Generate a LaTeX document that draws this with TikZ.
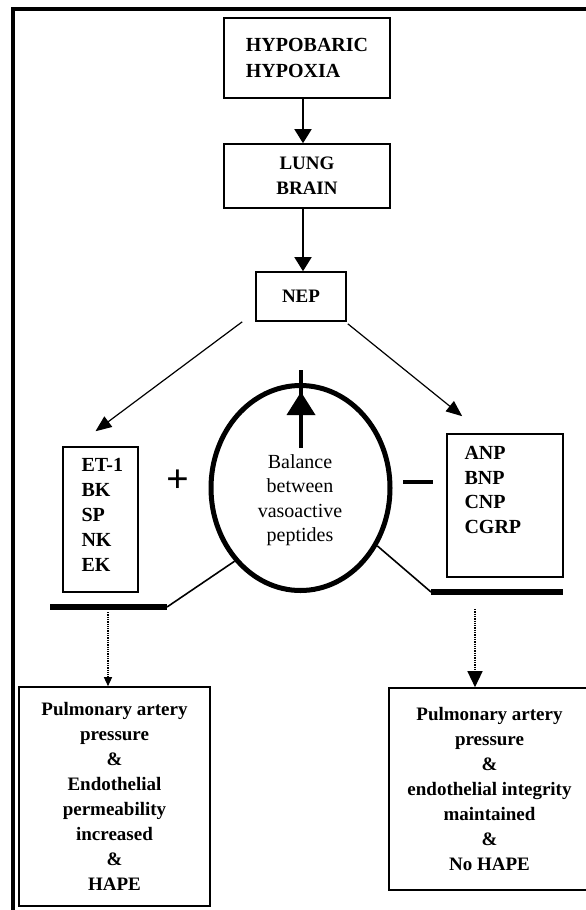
\documentclass[tikz,border=0pt]{standalone}
\usepackage{fontspec}
\setmainfont{Liberation Serif}
\usetikzlibrary{shapes.geometric,arrows.meta}

\begin{document}
\begin{tikzpicture}[x=1pt,y=-1pt,
  box/.style={draw,line width=1.6pt,inner sep=0pt},
  btext/.style={font=\bfseries\fontsize{19}{25}\selectfont},
  rtext/.style={font=\fontsize{20}{24.5}\selectfont,align=center},
  flow/.style={line width=1.6pt,-{Triangle[length=14pt,width=17pt]}},
  branch/.style={line width=1.2pt,-{Triangle[length=16pt,width=13pt]}},
  bar/.style={line width=6pt},
  link/.style={line width=1.6pt},
  dotarrow/.style={densely dotted,line width=1.3pt}]
\useasboundingbox (0,0) rectangle (586,910);

% outer frame (top and left sides)
\coordinate (fTL) at (13,9);
\coordinate (fTR) at (590,9);
\coordinate (fBL) at (13,912);
\draw[line width=4pt] (fTR) -- (fTL) -- (fBL);

% upper chain
\node[box,btext,font=\bfseries\fontsize{20}{26}\selectfont,align=left,
      minimum width=166pt,minimum height=80pt] (hyp) at (307,58) {HYPOBARIC\\HYPOXIA};
\node[box,btext,align=center,minimum width=166pt,minimum height=64pt] (lung) at (307,176) {LUNG\\BRAIN};
\node[box,btext,minimum width=90pt,minimum height=49pt] (nep) at (301,296.5) {NEP};

\draw[flow] ([xshift=-4pt]hyp.south) -- ([xshift=-4pt]lung.north);
\draw[flow] ([xshift=-4pt]lung.south) -- ([xshift=2pt]nep.north);

% peptide groups
\node[box,minimum width=75pt,minimum height=145pt] (et) at (100.5,519.5) {};
\node[btext,font=\bfseries\fontsize{20}{25}\selectfont,align=left,anchor=north west] (ettxt) at (78,455) {ET-1\\BK\\SP\\NK\\EK};

\node[box,minimum width=116pt,minimum height=143pt] (anp) at (505,505.5) {};
\node[btext,font=\bfseries\fontsize{20}{24.5}\selectfont,align=left,anchor=north west] (anptxt) at (461,443) {ANP\\BNP\\CNP\\CGRP};

\draw[branch] ([xshift=-13pt]nep.south west) -- ([shift={(-5pt,15pt)}]et.north);
\draw[branch] ([shift={(1pt,-2pt)}]nep.south east) -- ([shift={(16pt,17pt)}]anp.north west);

% balance
\node[draw,ellipse,line width=5pt,inner sep=0pt,minimum width=179pt,minimum height=205pt] (bal) at (300.5,488) {};
\node[rtext] (baltxt) at (300,500) {Balance\\between\\vasoactive\\peptides};
\coordinate (upbot) at (301,448);
\coordinate (uptop) at (301,370);
\draw[line width=4pt] (upbot) -- (uptop);
\fill ([yshift=-2pt]uptop |- 0,390) -- ([xshift=-14.5pt]uptop |- 0,415) -- ([xshift=14.5pt]uptop |- 0,415) -- cycle;

\node[font=\bfseries\fontsize{40}{40}\selectfont,inner sep=0pt] (plus) at (178,481) {+};
\node[inner sep=0pt] (minus) at (418,482) {\rule{30pt}{4.5pt}};

% bars joined to the balance
\coordinate (lbarL) at (50,607);
\coordinate (lbarR) at (167,607);
\draw[bar] (lbarL) -- (lbarR);
\draw[link] (lbarR) -- (bal.228);

\coordinate (rbarL) at (431,592);
\coordinate (rbarR) at (563,592);
\draw[link] (bal.323) -- (rbarL);
\draw[bar] (rbarL) -- (rbarR);

% outcomes
\node[box,btext,align=center,minimum width=191pt,minimum height=219pt] (res1) at (114.5,796.5)
  {Pulmonary artery\\pressure\\\&\\Endothelial\\permeability\\increased\\\&\\HAPE};
\node[box,btext,align=center,minimum width=201pt,minimum height=202pt] (res2) at (489.5,789)
  {Pulmonary artery\\pressure\\\&\\endothelial integrity\\maintained\\\&\\No HAPE};

\coordinate (ld) at (108,612);
\coordinate (rd) at (475,609);
\draw[dotarrow,-{Triangle[length=9pt,width=8pt]}] (ld) -- (ld |- res1.north);
\draw[dotarrow,-{Triangle[length=16pt,width=15pt]}] (rd) -- (rd |- res2.north);
\end{tikzpicture}
\end{document}
